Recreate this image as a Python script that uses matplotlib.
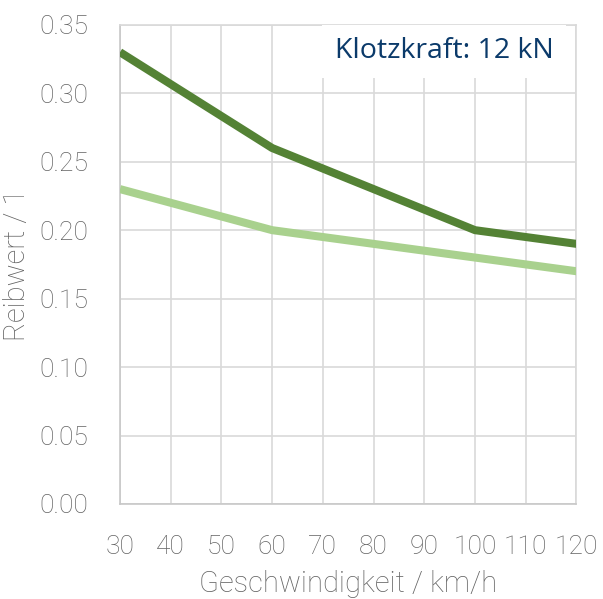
import matplotlib
matplotlib.use("Agg")
import matplotlib.pyplot as plt

# Reibwert ueber Geschwindigkeit
speed = [30, 60, 100, 120]
reib_dark = [0.33, 0.26, 0.20, 0.19]
reib_light = [0.23, 0.20, 0.18, 0.17]
x_ticks = [30, 40, 50, 60, 70, 80, 90, 100, 110, 120]
y_ticks = [0.00, 0.05, 0.10, 0.15, 0.20, 0.25, 0.30, 0.35]

grey = "#626262"
grid_c = "#d9d9d9"

fig = plt.figure(figsize=(6.03, 5.99), dpi=100)
ax = fig.add_axes([0.199, 0.1586, 0.757, 0.800])

ax.plot(speed, reib_light, color="#a9d18e", lw=5.8, solid_capstyle="butt", zorder=3)
ax.plot(speed, reib_dark, color="#548235", lw=5.8, solid_capstyle="butt", zorder=3)

ax.set_xlim(30, 120)
ax.set_ylim(0, 0.35)
ax.set_xticks(x_ticks)
ax.set_yticks(y_ticks)
ax.set_xticklabels([str(v) for v in x_ticks])
ax.set_yticklabels([f"{v:.2f}" for v in y_ticks])
ax.grid(True, color=grid_c, lw=1.2, zorder=0)
ax.set_axisbelow(True)
for s in ax.spines.values():
    s.set_color(grid_c)
    s.set_linewidth(1.2)
ax.spines["left"].set_color("#c8c8c8")
ax.spines["bottom"].set_color("#c8c8c8")
ax.tick_params(axis="x", length=0, pad=22, labelsize=19, labelcolor=grey)
ax.tick_params(axis="y", length=0, pad=23, labelsize=19, labelcolor=grey)
for lab in ax.get_xticklabels() + ax.get_yticklabels():
    lab.set_family("Roboto")
    lab.set_fontweight("light")

ax.set_xlabel("Geschwindigkeit / km/h", family="Roboto", fontweight="light",
              fontsize=21, color=grey, labelpad=8)
ax.set_ylabel("Reibwert / 1", family="Roboto", fontweight="light",
              fontsize=21, color=grey, labelpad=6)

ax.text(0.9496, 0.945, "Klotzkraft: 12 kN", transform=ax.transAxes, ha="right", va="center",
        family="Open Sans", fontsize=20.5, color="#0b3a6a", zorder=4,
        bbox=dict(facecolor="white", edgecolor="none", pad=9))

fig.savefig("out.png", dpi=100)
